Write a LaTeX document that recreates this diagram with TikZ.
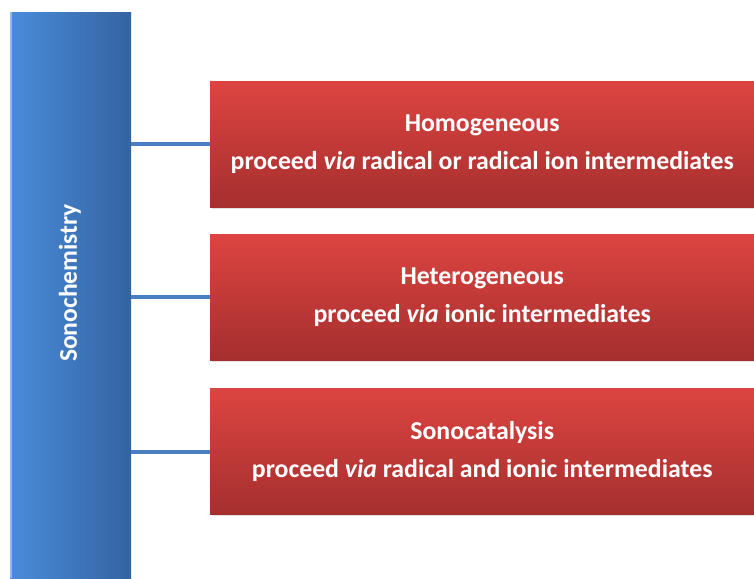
\documentclass[tikz,border=0pt]{standalone}
\usepackage{fontspec}
\setmainfont{Carlito}
\definecolor{barL}{HTML}{4A8CDA}
\definecolor{barR}{HTML}{3463A0}
\definecolor{redT}{HTML}{DD4441}
\definecolor{redB}{HTML}{A52F2E}
\definecolor{conn}{HTML}{4A7EC2}
\begin{document}
\begin{tikzpicture}[x=1pt,y=-1pt,
  redbox/.style={minimum width=544pt,minimum height=126pt,anchor=north west,inner sep=0pt,
    top color=redT,bottom color=redB,draw=none,text=white,font=\bfseries\fontsize{25.8}{38}\selectfont,align=center},
  link/.style={conn,line width=3.4pt}]
\useasboundingbox (0,0) rectangle (754,578);
\fill[white] (0,0) rectangle (754,578);
% shadows
\fill[black!12] (212,84) rectangle (756,209);
\fill[black!12] (212,237) rectangle (756,362);
\fill[black!12] (212,391) rectangle (756,516);
\node[minimum width=121pt,minimum height=566pt,anchor=north west,inner sep=0pt,
  left color=barL,right color=barR,draw=none] (bar) at (10,12) {};
\fill[barL!60!white] (10,12) rectangle (12,578);
\node[rotate=90,text=white,font=\bfseries\fontsize{25.6}{30}\selectfont] (lbl) at (70,283) {Sonochemistry};
\node[redbox] (b1) at (210,81) {Homogeneous\\proceed \textit{via} radical or radical ion intermediates};
\node[redbox] (b2) at (210,234) {Heterogeneous\\proceed \textit{via} ionic intermediates};
\node[redbox] (b3) at (210,388) {Sonocatalysis\\proceed \textit{via} radical and ionic intermediates};
\coordinate (c1) at (131,144);
\coordinate (c2) at (131,297);
\coordinate (c3) at (131,452);
\draw[link] (c1) -- (c1 -| b1.west);
\draw[link] (c2) -- (c2 -| b2.west);
\draw[link] (c3) -- (c3 -| b3.west);
\end{tikzpicture}
\end{document}
